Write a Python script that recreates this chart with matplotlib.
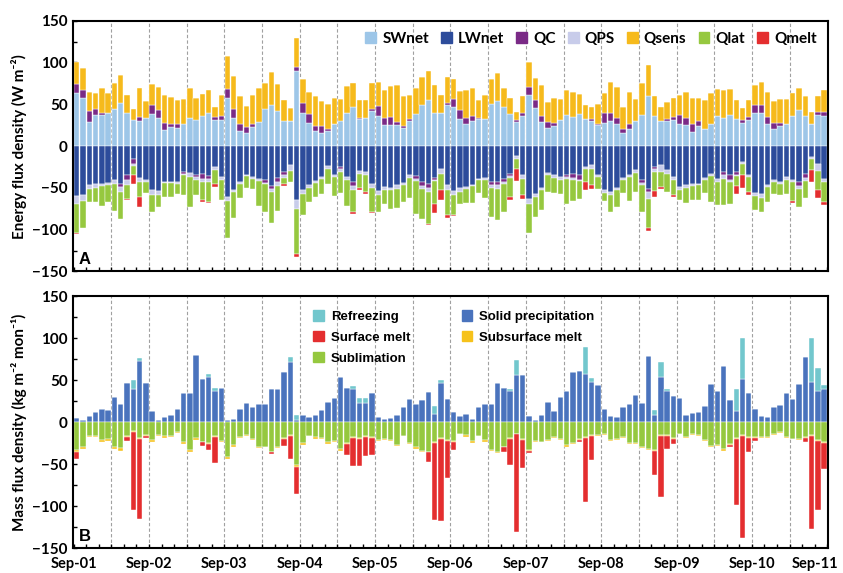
import numpy as np
import matplotlib
matplotlib.use("Agg")
from matplotlib import pyplot as plt
from matplotlib.patches import Patch
import matplotlib.transforms as mtransforms

# monthly values Sep-2001 .. Aug-2011, one row per year (Sep..Aug)
sw_net = [63, 57, 29, 37, 37, 40, 44, 51, 39, 31, 30, 33,
          38, 34, 19, 23, 22, 26, 33, 31, 36, 40, 31, 31,
          58, 34, 18, 16, 23, 29, 44, 49, 42, 30, 30, 90,
          40, 28, 18, 16, 18, 27, 30, 39, 47, 32, 33, 42,
          36, 25, 25, 25, 22, 30, 38, 49, 55, 39, 40, 49,
          47, 32, 27, 30, 32, 32, 50, 54, 47, 38, 29, 36,
          61, 45, 29, 22, 24, 31, 37, 35, 38, 32, 30, 25,
          28, 30, 26, 16, 21, 30, 37, 60, 36, 30, 30, 31,
          27, 25, 17, 24, 21, 27, 36, 34, 37, 32, 28, 31,
          39, 39, 26, 20, 24, 27, 36, 43, 36, 27, 37, 36]
lw_net = [-60, -58, -47, -45, -45, -44, -40, -45, -35, -16, -38, -40,
          -53, -54, -43, -43, -43, -31, -32, -34, -33, -36, -25, -37,
          -61, -52, -43, -34, -37, -39, -41, -48, -38, -31, -23, -65,
          -53, -47, -42, -37, -24, -34, -25, -37, -43, -30, -31, -45,
          -54, -49, -50, -47, -44, -35, -36, -43, -45, -38, -27, -47,
          -54, -50, -49, -46, -39, -38, -43, -43, -39, -33, -12, -34,
          -63, -57, -50, -32, -35, -37, -34, -33, -35, -25, -23, -35,
          -53, -55, -50, -38, -35, -29, -41, -51, -25, -23, -29, -37,
          -49, -47, -45, -45, -38, -33, -39, -31, -35, -31, -19, -34,
          -56, -57, -47, -40, -43, -37, -40, -43, -33, -13, -22, -39]
qc = [11, 10, 13, 7, 2, 0, 0, -4, -6, -5, 5, 0,
      11, 9, 9, 4, 5, -2, 0, -3, -6, -3, 4, 5,
      10, 10, 8, 7, 3, 0, -3, -3.5, -5, -4, 0, 5,
      12, 10, 6, 8, 2, 0, -3, 0, -5, 2, 0, 2,
      12, 9, 10, 4, 2, 2, -3, -5, -5, -2, 0, 3,
      9, 11, 7, 6, 2, 0, -4, -4, -4, -3, 2, 3,
      10, 10, 7, 7, 4, 0, -3, -5, -5, 0, 2, 2,
      11, 10, 8, 5, 5, 0, -3, -4, -3, 0, 2, 4,
      10, 9, 10, 6, 0, 0, 0, -4, -5, -3, 3, 4,
      10, 10, 9, 8, 4, 0, 0, -5, -5, 0, 4, 5]
qps = [-9, -8, -4, -5, -3, -3, -5, -6, -5, -3, -5, -3,
       -6, -5, -1, -1, -2, -2, -5, -3, -4, -4, -4, -4,
       -5, -3, -2, -2, -2, -3, -1, -4, -5, -3, -7, -10,
       -4, -3, -2, -2, -3, -3, -3, -3, -5, -3, -4, -5,
       -4, -3, -3, -4, -3, -3, -3, -3, -5, -2, -6, -6,
       -4, -5, -2, -2, -2, -3, -3, -4, -2, -2, -3, -5,
       -6, -4, -3, -2, -3, -3, -2, -3, -2, -3, -4, -2,
       -3, -4, -3, -3, -2, -3, -2, -8, -3, -8, -4, -3,
       -3, -3, -3, -2, -3, -3, -4, -4, -3, -2, -2, -3,
       -4, -5, -2, -3, -2, -3, -3, -3, -4, -3, -8, -4]
qsens = [26, 27, 23, 19, 30, 24, 32, 34, 22, 13, 35, 21,
         25, 28, 33, 32, 28, 30, 37, 27, 26, 27, 12, 25,
         40, 40, 34, 25, 35, 41, 32, 40, 32, 25, 15, 34,
         28, 27, 36, 30, 30, 30, 26, 33, 29, 21, 22, 32,
         29, 33, 37, 44, 36, 29, 31, 34, 35, 34, 21, 31,
         24, 23, 33, 34, 21, 29, 30, 33, 22, 20, 10, 21,
         30, 27, 37, 24, 29, 25, 30, 30, 24, 17, 15, 23,
         25, 37, 37, 26, 39, 26, 38, 37, 24, 17, 21, 22,
         24, 31, 30, 28, 34, 37, 32, 33, 31, 23, 15, 20,
         24, 28, 30, 26, 28, 29, 27, 27, 24, 14, 19, 26]
qlat = [-35, -32, -16, -17, -24, -20, -33, -32, -17, -10, -18, -13,
        -20, -14, -17, -17, -12, -23, -36, -19, -22, -24, -16, -23,
        -44, -31, -17, -14, -12, -30, -34, -37, -30, -7, -13, -54,
        -26, -17, -17, -18, -18, -23, -25, -32, -26, -17, -20, -29,
        -21, -17, -22, -23, -20, -24, -39, -36, -38, -27, -19, -29,
        -25, -14, -17, -20, -15, -21, -35, -38, -34, -23, -13, -20,
        -35, -24, -23, -21, -18, -17, -30, -25, -21, -15, -20, -14,
        -10, -20, -20, -15, -29, -23, -33, -35, -23, -18, -22, -19,
        -12, -18, -16, -17, -15, -31, -28, -31, -26, -12, -14, -18,
        -16, -17, -18, -14, -13, -17, -23, -22, -20, -13, -22, -24]
qmelt = [-1, 0, 0, 0, 0, 0, 0, 0, -1, -11, -12, 0,
         0, 0, 0, 0, 0, 0, 0, 0, -2, -1, -4, 0,
         0, 0, 0, 0, 0, 0, 0, 0, 0, -3, 0, -4,
         0, 0, 0, 0, 0, 0, 0, 0, -2, -3, -2, -1,
         0, 0, 0, 0, 0, 0, 0, 0, -1, -11, -12, -4,
         -1, 0, 0, 0, 0, 0, 0, 0, 0, -4, -14, -4,
         0, 0, 0, 0, 0, 0, 0, 0, 0, -10, -4, 0,
         0, 0, 0, 0, 0, 0, 0, -3, -7, -2, 0, -2,
         0, 0, 0, 0, 0, 0, 0, 0, 0, -9, -15, -3,
         0, 0, 0, 0, 0, 0, -2, 0, 0, -14, -10, -4]

solid_prec = [4.4, 3, 7, 11.5, 16, 15, 30, 21, 46, 40, 73, 46,
              13, 3, 6, 9, 16, 35, 35, 80, 51, 54, 37, 41,
              2, 4, 16, 23, 17.5, 21, 22, 39, 39, 60, 72, 2.5,
              9, 6, 9, 15, 24, 29, 54, 41, 40, 23, 23, 35,
              6, 4, 5.5, 9, 18, 27, 22, 26, 36, 9.5, 46, 28,
              12, 7.5, 10, 4, 18, 22, 22, 46, 41, 37, 56, 56,
              7, 3, 8, 24, 13.5, 30, 37, 60, 61, 57, 48, 44,
              16, 7, 6, 17.5, 21, 32, 23, 79, 8, 54, 37, 31,
              29, 9, 11, 12, 19.5, 45, 37, 67, 26, 13, 51, 35,
              16, 7, 6, 17.5, 20, 35, 27, 45, 77, 48, 37, 40]
refreezing = [0, 0, 0, 0, 0, 0, 0, 0, 0, 10, 3, 0,
              0, 0, 0, 0, 0, 0, 0, 0, 0, 3, 4, 0,
              0, 0, 0, 0, 0, 0, 0, 0, 0, 0, 6, 6,
              0, 0, 0, 0, 0, 0, 0, 0, 3, 6, 6, 0,
              0, 0, 0, 0, 0, 0, 0, 0, 0, 9.5, 4, 0,
              0, 0, 0, 0, 0, 0, 0, 0, 0, 3, 18, 0,
              0, 0, 0, 0, 0, 0, 0, 0, 0, 32, 5, 0,
              0, 0, 0, 0, 0, 0, 0, 0, 6, 17, 3, 0,
              0, 0, 0, 0, 0, 0, 0, 0, 0, 26, 49, 0,
              0, 0, 0, 0, 0, 0, 0, 0, 0, 52, 27, 4]
sublimation = [-33, -30, -16, -16, -21, -20, -30, -31, -17, -11, -19, -15,
               -21, -15, -17, -17, -11.5, -24, -33, -19, -23, -25, -17, -22,
               -42, -27, -17.5, -15, -20, -29, -29, -35, -30, -19, -15, -51,
               -25, -16, -17.5, -19, -23, -22, -32, -25, -17.5, -19, -17, -17.5,
               -21, -20, -21, -27, -16, -25, -30, -34, -35, -24, -19, -21,
               -22, -13.5, -15.5, -22.5, -16, -21, -33, -35, -29, -19, -13.5, -20,
               -33, -22, -23, -21.5, -17.5, -20, -27, -25, -20, -17.5, -15.5, -15.5,
               -14, -21.5, -20, -17.5, -25, -25, -30, -32, -33, -15.5, -15.5, -19,
               -13.5, -17.5, -14, -15.5, -21.5, -28, -27, -32, -26, -19, -15, -18,
               -17.5, -18, -18, -14, -12, -18, -19.5, -20, -18, -15, -21, -23.5]
subsurface_melt = [-3, -2, -2, -2, -3, -2, -2, -3, -1, -1, -1, -1,
                   -2, -2, -2, -1, -1, -2, -2, -2, -1, -1, -1, -1,
                   -2, -2, -1, -1, -1, -2, -1, -1, -1, -1, -1, -2,
                   -2, -1, -2, -1, -3, -2, -2, -1, -1, -1, -1, -1,
                   -1, -1, -1, -1, -1, -1, -2, -1, -1, -1, -1, -1,
                   -1, -1, -2, -2, -1, -2, -1, -2, -1, -1, -1, -1,
                   -1, -1, -1, -1, -1, -1, -2, -1, -1, -1, -1, -1,
                   -1, -1, -1, -1, -1, -1, -1, -1, -1, -1, -1, -1,
                   -1, -1, -1, -1, -1, -1, -1, -2, -1, -1, -1, -1,
                   -1, -1, -1, -1, -1, -1, -1, -1, -1, -1, -1, -1]
surface_melt = [-8, 0, 0, 0, 0, 0, 0, 0, -4, -93, -95, -3,
                0, 0, 0, 0, 0, 0, 0, 0, -4, -7, -30, 0,
                0, 0, 0, 0, 0, 0, 0, -2, 0, -8, -28, -33,
                0, 0, 0, 0, 0, 0, 0, -13, -34, -32, -22, -20,
                0, 0, 0, 0, 0, 0, 0, -1, -11, -91, -97, -44,
                -10, 0, 0, 0, 0, 0, 0, 0, -5, -31, -116, -34,
                -3, 0, 0, 0, 0, 0, 0, 0, -2, -77, -28, 0,
                0, 0, 0, 0, 0, 0, 0, 0, -29, -72, -16, -6,
                0, 0, 0, 0, 0, 0, 0, 0, -2, -79, -122, -16,
                -4, 0, 0, 0, 0, 0, 0, 0, -5, -111, -83, -31]

year_labels = ["Sep-01", "Sep-02", "Sep-03", "Sep-04", "Sep-05", "Sep-06",
               "Sep-07", "Sep-08", "Sep-09", "Sep-10", "Sep-11"]

top_names = ["SWnet", "LWnet", "QC", "QPS", "Qsens", "Qlat", "Qmelt"]
top_colors = ["#9DC6E8", "#2D4C9B", "#7A2A86", "#C8CCEA", "#F6BA1C", "#96C83F", "#E42E2F"]

n = len(sw_net)
x = np.arange(n)
FONT = ["Lato", "DejaVu Sans"]


def stacked(ax, series, colors):
    # excel-like stacking: positives go up, negatives go down, in series order
    pos = np.zeros(n)
    neg = np.zeros(n)
    for vals, col in zip(series, colors):
        v = np.array(vals, dtype=float)
        bottom = np.where(v >= 0, pos, neg)
        ax.bar(x, v, 0.86, bottom=bottom, color=col, edgecolor="white",
               linewidth=0.3, zorder=2)
        pos += np.clip(v, 0, None)
        neg += np.clip(v, None, 0)


def style_axes(ax, show_labels):
    ax.set_xlim(-0.65, n - 0.35)
    ax.set_ylim(-150, 150)
    for s in ax.spines.values():
        s.set_linewidth(1.5)
    for k in range(6, n, 6):
        ax.axvline(k - 0.5, color="#A0A0A0", linestyle=(0, (3, 2)), linewidth=0.8, zorder=0)
    ax.set_yticks(np.arange(-150, 151, 50))
    ax.set_yticks(np.arange(-150, 151, 25), minor=True)
    ax.set_xticks(np.arange(0, n + 1, 12) - 0.5)
    ax.set_xticks(np.arange(0, n + 1, 2) - 0.5, minor=True)
    ax.tick_params(which="both", direction="in", length=3, width=1, top=False, right=False)
    ax.tick_params(axis="x", which="major", pad=6)
    if show_labels:
        ax.set_xticklabels(year_labels, fontsize=10.5, fontweight="bold", family=FONT)
        # last label sits at the right edge, nudge it inwards like the original
        last = ax.get_xticklabels()[-1]
        last.set_transform(last.get_transform() +
                           mtransforms.ScaledTranslation(-9 / 72, 0, ax.figure.dpi_scale_trans))
    else:
        ax.set_xticklabels([])
    for t in ax.get_yticklabels():
        t.set_fontsize(11)
        t.set_fontweight("bold")
        t.set_family(FONT)


fig = plt.figure(figsize=(8.43, 5.73), dpi=100)
ax1 = fig.add_axes([0.0862, 0.5262, 0.8963, 0.4377])
ax2 = fig.add_axes([0.0862, 0.0431, 0.8963, 0.4403])

# panel A: energy fluxes
stacked(ax1, [sw_net, lw_net, qc, qps, qsens, qlat, qmelt], top_colors)
style_axes(ax1, False)
ax1.set_ylabel("Energy flux density (W m\u207b\u00b2)", fontsize=11,
               fontweight="bold", family=FONT, labelpad=4)
ax1.text(0.008, 0.03, "A", transform=ax1.transAxes, fontsize=12, fontweight="bold",
         family="Liberation Sans")
h1 = [Patch(color=c) for c in top_colors]
ax1.legend(h1, top_names, ncol=7, loc="upper right", bbox_to_anchor=(1.0, 1.0),
           frameon=False, handlelength=0.7, handleheight=0.7, handletextpad=0.4,
           columnspacing=0.8, borderaxespad=0.35,
           prop={"family": FONT, "weight": "bold", "size": 11})

# panel B: mass fluxes
bot_colors = {"Solid precipitation": "#4A73BD", "Refreezing": "#72C7CD",
              "Sublimation": "#95C83F", "Subsurface melt": "#F6C21B",
              "Surface melt": "#E42E2F"}
stacked(ax2, [solid_prec, refreezing, sublimation, subsurface_melt, surface_melt],
        [bot_colors["Solid precipitation"], bot_colors["Refreezing"],
         bot_colors["Sublimation"], bot_colors["Subsurface melt"],
         bot_colors["Surface melt"]])
style_axes(ax2, True)
ax2.set_ylabel("Mass flux density (kg m\u207b\u00b2 mon\u207b\u00b9)", fontsize=11,
               fontweight="bold", family=FONT, labelpad=4)
ax2.text(0.008, 0.03, "B", transform=ax2.transAxes, fontsize=12, fontweight="bold",
         family="Liberation Sans")
leg_order = ["Refreezing", "Surface melt", "Sublimation", "Solid precipitation", "Subsurface melt"]
h2 = [Patch(color=bot_colors[k]) for k in leg_order]
ax2.legend(h2, leg_order, ncol=2, loc="upper left", bbox_to_anchor=(0.303, 0.99),
           frameon=False, handlelength=0.8, handleheight=0.8, handletextpad=0.5,
           columnspacing=3.9, labelspacing=0.62,
           prop={"family": "Liberation Sans", "weight": "bold", "size": 9.5})

fig.savefig("out.png", dpi=100)
